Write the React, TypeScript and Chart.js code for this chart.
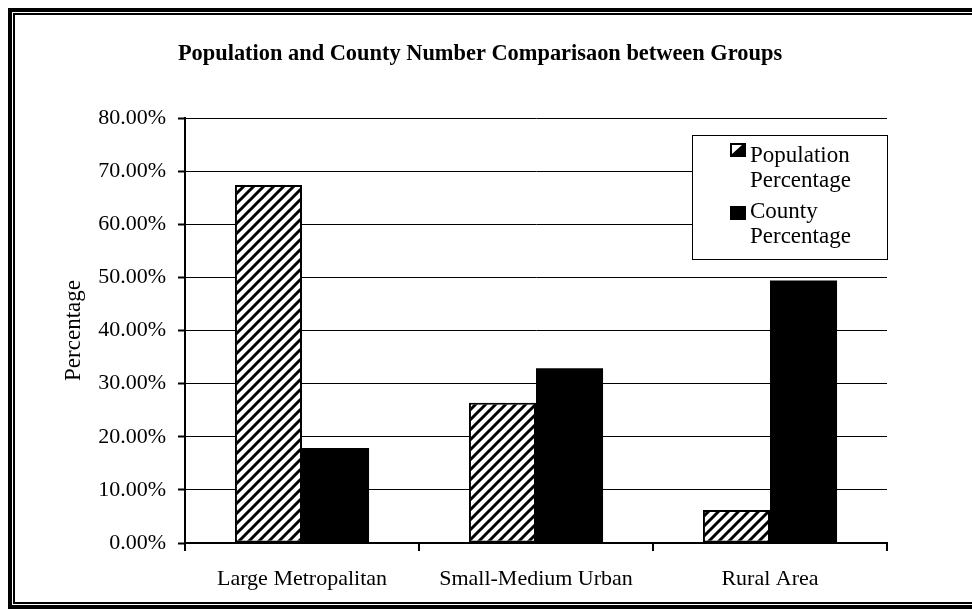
import React, { useEffect, useRef } from "react";
import { Chart, registerables } from "chart.js";

Chart.register(...registerables);

const categories = ["Large Metropalitan", "Small-Medium Urban", "Rural Area"];
const populationPct = [67.4, 26.4, 6.2];
const countyPct = [17.9, 32.9, 49.4];
const populationLabel = ["Population", "Percentage"];
const countyLabel = ["County", "Percentage"];
const chartTitle = "Population and County Number Comparisaon between Groups";
const yAxisTitle = "Percentage";
const yMin = 0;
const yMax = 80;
const yStep = 10;

const FONT = "'Liberation Serif', 'Times New Roman', serif";

function makeHatch(ctx: CanvasRenderingContext2D): CanvasPattern | string {
  const s = 10;
  const c = document.createElement("canvas");
  c.width = s;
  c.height = s;
  const g = c.getContext("2d");
  if (!g) return "#888";
  g.fillStyle = "#fff";
  g.fillRect(0, 0, s, s);
  g.strokeStyle = "#000";
  g.lineWidth = 3;
  g.beginPath();
  for (const k of [0, s, 2 * s]) {
    g.moveTo(k + 3, -3);
    g.lineTo(-3, k + 3);
  }
  g.stroke();
  return ctx.createPattern(c, "repeat") || "#888";
}

export default function App() {
  const ref = useRef<HTMLCanvasElement | null>(null);

  useEffect(() => {
    const canvas = ref.current;
    if (!canvas) return;
    const ctx = canvas.getContext("2d");
    if (!ctx) return;
    const hatch = makeHatch(ctx);

    const decor = {
      id: "decor",
      beforeDraw(chart: any) {
        const c: CanvasRenderingContext2D = chart.ctx;
        const W = chart.width;
        c.save();
        c.fillStyle = "#fff";
        c.fillRect(0, 0, W, chart.height);
        c.fillStyle = "#000";
        // outer frame (left, top, bottom) - right side runs off the picture
        c.fillRect(8, 8, 4, 601);
        c.fillRect(8, 8, W, 4);
        c.fillRect(8, 605, W, 4);
        // inner frame
        c.fillRect(13, 13, 2, 590);
        c.fillRect(13, 13, W, 2);
        c.fillRect(13, 602, W, 2);
        c.restore();
      },
      afterDraw(chart: any) {
        const c: CanvasRenderingContext2D = chart.ctx;
        c.save();
        // Title
        c.fillStyle = "#000";
        c.font = `bold 22.4px ${FONT}`;
        c.textAlign = "center";
        c.textBaseline = "alphabetic";
        c.fillText(chartTitle, 480, 60);

        // Legend box
        const lx = 692, ly = 135, lw = 196, lh = 125;
        c.fillStyle = "#fff";
        c.fillRect(lx, ly, lw, lh);
        c.strokeStyle = "#000";
        c.lineWidth = 1;
        c.strokeRect(lx + 0.5, ly + 0.5, lw - 1, lh - 1);

        // Population swatch
        const sx = 730, sw = 16, sh = 14;
        let sy = 143;
        c.fillStyle = "#000";
        c.fillRect(sx, sy, sw, sh);
        c.fillStyle = "#fff";
        c.beginPath();
        c.moveTo(sx + 2, sy + 2);
        c.lineTo(sx + sw - 4, sy + 2);
        c.lineTo(sx + 2, sy + sh - 3);
        c.closePath();
        c.fill();
        // County swatch
        sy = 206;
        c.fillStyle = "#000";
        c.fillRect(sx, sy, sw, sh);

        c.fillStyle = "#000";
        c.font = `23px ${FONT}`;
        c.textAlign = "left";
        c.fillText(populationLabel[0], 750, 162);
        c.fillText(populationLabel[1], 750, 187);
        c.fillText(countyLabel[0], 750, 218);
        c.fillText(countyLabel[1], 750, 243);
        c.restore();
      },
    };

    const chart = new Chart(ctx, {
      type: "bar",
      data: {
        labels: categories,
        datasets: [
          {
            label: populationLabel.join(" "),
            data: populationPct,
            backgroundColor: hatch as any,
            borderColor: "#000",
            borderWidth: 2,
            borderSkipped: false,
            categoryPercentage: 0.573,
            barPercentage: 1.0,
          },
          {
            label: countyLabel.join(" "),
            data: countyPct,
            backgroundColor: "#000",
            borderColor: "#000",
            borderWidth: 0,
            categoryPercentage: 0.573,
            barPercentage: 1.0,
          },
        ],
      },
      options: {
        responsive: false,
        animation: false,
        devicePixelRatio: 1,
        layout: { padding: { left: 0, top: 118, right: 85, bottom: 0 } },
        plugins: {
          legend: { display: false },
          title: { display: false },
          tooltip: { enabled: false },
        },
        scales: {
          x: {
            grid: {
              display: true,
              drawOnChartArea: false,
              drawTicks: true,
              tickLength: 8,
              offset: true,
              color: "#000",
              lineWidth: 2,
            },
            border: { display: true, color: "#000", width: 2 },
            ticks: {
              color: "#000",
              font: { family: FONT, size: 22 },
              padding: 15,
              maxRotation: 0,
              autoSkip: false,
            },
            afterFit: (s: any) => {
              s.height = 66;
            },
          },
          y: {
            min: yMin,
            max: yMax,
            ticks: {
              stepSize: yStep,
              color: "#000",
              font: { family: FONT, size: 22 },
              padding: 12,
              callback: (v: any) => Number(v).toFixed(2) + "%",
            },
            grid: {
              color: "#000",
              lineWidth: 1,
              tickLength: 7,
              tickWidth: 2,
              tickColor: "#000",
            },
            border: { display: true, color: "#000", width: 2 },
            title: {
              display: true,
              text: yAxisTitle,
              color: "#000",
              font: { family: FONT, size: 23 },
              padding: { top: 60, bottom: 0 },
            },
            afterFit: (s: any) => {
              s.width = 185;
            },
          },
        },
      } as any,
      plugins: [decor],
    });

    return () => chart.destroy();
  }, []);

  return (
    <div
      style={{
        position: "fixed",
        left: 0,
        top: 0,
        width: 972,
        height: 609,
        overflow: "hidden",
        background: "#fff",
      }}
    >
      <canvas
        ref={ref}
        width={972}
        height={609}
        style={{ position: "absolute", left: 0, top: 0, width: 972, height: 609 }}
      />
    </div>
  );
}
